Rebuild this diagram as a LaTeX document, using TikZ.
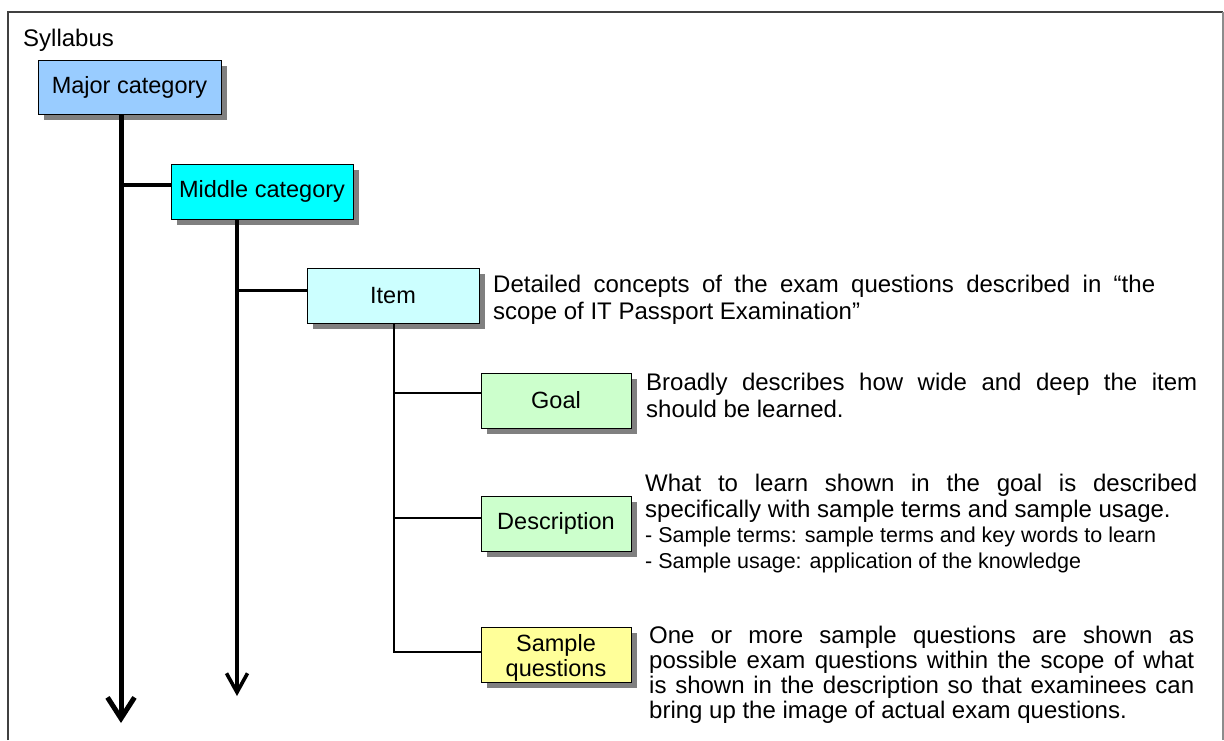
\documentclass[tikz,border=0pt]{standalone}
\usepackage{fontspec}
\setmainfont{Liberation Sans}
\usetikzlibrary{shadows,arrows.meta}
\definecolor{majorc}{HTML}{99CCFF}
\definecolor{middlec}{HTML}{00FFFF}
\definecolor{itemc}{HTML}{CCFFFF}
\definecolor{greenc}{HTML}{CCFFCC}
\definecolor{yellowc}{HTML}{FFFF99}
\definecolor{shadowc}{HTML}{808080}
\newcommand{\jl}[1]{\makebox[\linewidth][s]{#1}}
\tikzset{
  catbox/.style={draw=black, line width=1pt, rectangle, inner sep=0pt, align=center,
    font=\fontsize{23.5}{26}\selectfont,
    drop shadow={shadow xshift=5.5pt, shadow yshift=-5.5pt, fill=shadowc, opacity=1}},
  desctext/.style={anchor=base west, inner sep=0pt},
  bigarrow/.style={line width=5pt, -{Straight Barb[length=21pt,width=27pt]}},
  midarrow/.style={line width=3.6pt, -{Straight Barb[length=19pt,width=21pt]}},
}
\begin{document}
\begin{tikzpicture}[x=1pt,y=-1pt]
\useasboundingbox (0,0) rectangle (1224,740);
% frame
\draw[line width=1.2pt, black!75] (8,740) -- (8,12) -- (1223,12);
\draw[line width=1.2pt, black!45] (1223,12) -- (1223,740);

\node[desctext, font=\fontsize{24}{28}\selectfont] (syl) at (23,46) {Syllabus};

% boxes
\node[catbox, fill=majorc, minimum width=183pt, minimum height=54pt] (major) at (129.5,87) {Major category};
\node[catbox, fill=middlec, minimum width=182pt, minimum height=55pt] (middle) at (262,191.5) {Middle category};
\node[catbox, fill=itemc, minimum width=172pt, minimum height=55pt] (item) at (393,295.5) {Item};
\node[catbox, fill=greenc, minimum width=150pt, minimum height=55pt] (goal) at (556,400.5) {Goal};
\node[catbox, fill=greenc, minimum width=150pt, minimum height=55pt] (desc) at (556,523.5) {Description};
\node[catbox, fill=yellowc, minimum width=150pt, minimum height=55pt] (sample) at (556,654.5)
  {\raisebox{-4pt}[\height][\depth]{\begin{tabular}{@{}c@{}}Sample\\[-1pt]questions\end{tabular}}};

% connector helper coordinates
\coordinate (endA) at (121,723);
\coordinate (endB) at (237,696);
\coordinate (colC) at (394,652);
\path (middle.west) ++(0,-6.5) coordinate (mb);
\path (item.west) ++(0,-5.5) coordinate (ib);
\path (goal.west) ++(0,-7.5) coordinate (gb);
\path (desc.west) ++(0,-5.5) coordinate (db);

% connectors
\draw[bigarrow] (major.south -| endA) -- (endA);
\draw[line width=4pt] (mb) -- (mb -| endA);
\draw[midarrow] (middle.south -| endB) -- (endB);
\draw[line width=3pt] (ib) -- (ib -| endB);
\draw[line width=1.8pt] (item.south -| colC) -- (colC) -- (colC -| sample.west);
\draw[line width=1.8pt] (gb) -- (gb -| colC);
\draw[line width=1.8pt] (db) -- (db -| colC);

% descriptions
\node[desctext] (itemtext) at (493,292) {\parbox[t]{662pt}{\fontsize{24}{27}\selectfont
\jl{Detailed concepts of the exam questions described in “the}\\
scope of IT Passport Examination”}};

\node[desctext] (goaltext) at (646,390) {\parbox[t]{551pt}{\fontsize{24}{27}\selectfont
\jl{Broadly describes how wide and deep the item}\\
should be learned.}};

\node[desctext] (desctext) at (645,491) {\parbox[t]{552pt}{\fontsize{24}{26}\selectfont
\jl{What to learn shown in the goal is described}\\
specifically with sample terms and sample usage.\par
{\fontsize{21.5}{25.5}\selectfont - Sample terms: sample terms and key words to learn\\
- Sample usage: application of the knowledge\par}}};

\node[desctext] (sampletext) at (649,643) {\parbox[t]{545pt}{\fontsize{24}{25}\selectfont
\jl{One or more sample questions are shown as}\\
\jl{possible exam questions within the scope of what}\\
\jl{is shown in the description so that examinees can}\\
bring up the image of actual exam questions.}};
\end{tikzpicture}
\end{document}
